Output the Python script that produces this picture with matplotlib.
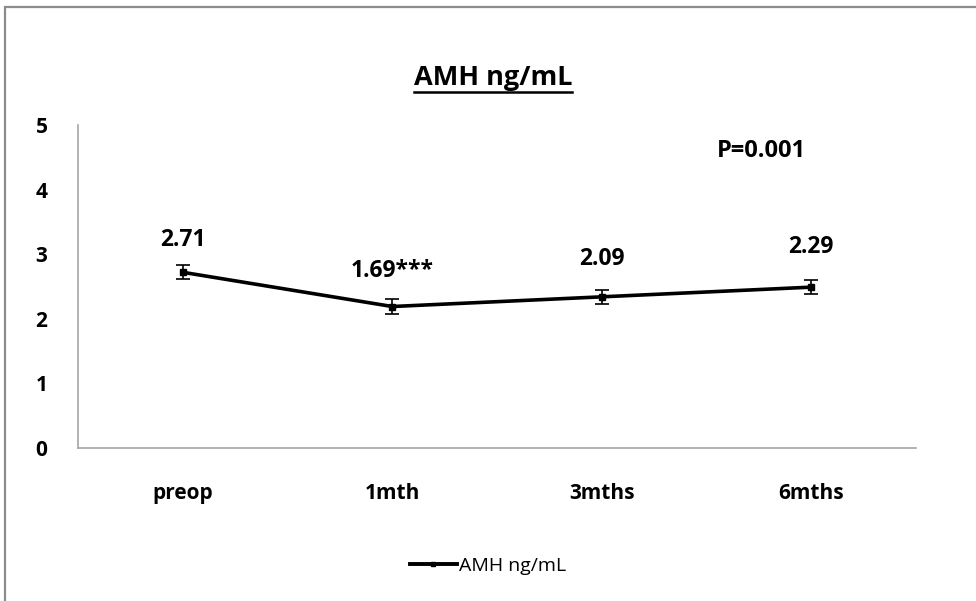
import matplotlib
matplotlib.use("Agg")
import matplotlib.pyplot as plt
from matplotlib.lines import Line2D
from matplotlib.patches import Rectangle

categories = ["preop", "1mth", "3mths", "6mths"]
amh_means = [2.72, 2.19, 2.34, 2.49]
amh_err = [0.11, 0.11, 0.11, 0.11]
point_labels = ["2.71", "1.69***", "2.09", "2.29"]
y_ticks = [0, 1, 2, 3, 4, 5]
title = "AMH ng/mL"
series_name = "AMH ng/mL"
p_text = "P=0.001"

plt.rcParams['font.family'] = ['Open Sans', 'DejaVu Sans']

fig = plt.figure(figsize=(9.76, 6.01), dpi=100)
fig.patch.set_facecolor("white")

fig.add_artist(Rectangle((5/976, -0.05), 1.2, 1 - 7/601 + 0.05, transform=fig.transFigure,
                         fill=False, edgecolor="#8c8c8c", linewidth=1.6))

ax = fig.add_axes([78/976, 1 - 448/601, 838/976, 323/601])
x = list(range(len(categories)))
ax.errorbar(x, amh_means, yerr=amh_err, color="black", linewidth=2.6,
            marker="s", markersize=4.5, capsize=5, elinewidth=1.2, capthick=1.2,
            label=series_name)

ax.set_xlim(-0.5, len(categories) - 0.5)
ax.set_ylim(0, 5)
ax.set_yticks(y_ticks)
ax.set_xticks(x)
ax.set_xticklabels(categories)
for sp in ["top", "right"]:
    ax.spines[sp].set_visible(False)
for sp in ["left", "bottom"]:
    ax.spines[sp].set_color("#a6a6a6")
    ax.spines[sp].set_linewidth(1.2)
ax.tick_params(axis="both", length=0, labelsize=15)
ax.tick_params(axis="y", pad=22)
ax.tick_params(axis="x", pad=25)
for lab in ax.get_xticklabels() + ax.get_yticklabels():
    lab.set_fontweight("bold")

label_offsets = [0.50, 0.55, 0.59, 0.62]
for xi, yi, lab, off in zip(x, amh_means, point_labels, label_offsets):
    ax.text(xi, yi + off, lab, ha="center", va="center", fontsize=16.5, fontweight="bold")

ax.text(2.76, 4.60, p_text, ha="center", va="center", fontsize=17, fontweight="bold")

t = fig.text(493/976, 1 - 78/601, title, ha="center", va="center", fontsize=19.5, fontweight="bold")
fig.canvas.draw()
bb = t.get_window_extent()
fig.add_artist(Line2D([bb.x0/976, bb.x1/976], [1 - 92/601, 1 - 92/601], transform=fig.transFigure,
                      color="black", linewidth=1.8))

fig.legend(handles=[Line2D([0], [0], color="black", linewidth=2.8, marker="s", markersize=3)],
           labels=[series_name], loc="center", bbox_to_anchor=(488/976, 1 - 566/601),
           frameon=False, fontsize=14, handlelength=2.4, handletextpad=0.1)

fig.savefig("out.png", dpi=100, facecolor="white")
